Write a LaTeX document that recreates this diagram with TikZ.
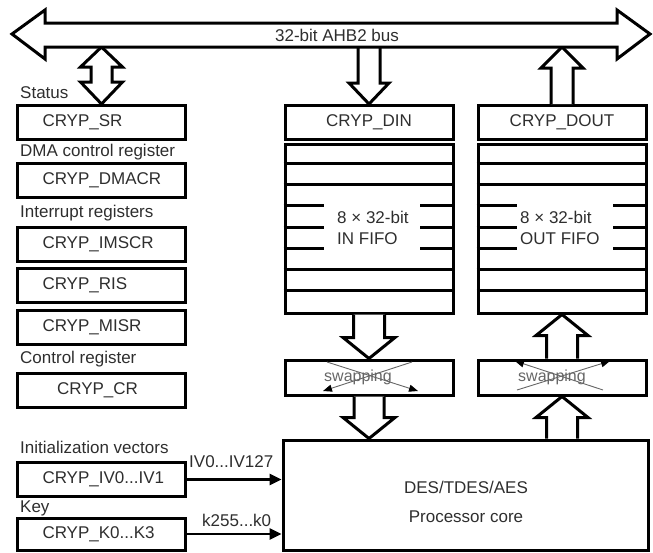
\documentclass[tikz,border=0pt]{standalone}
\usepackage{fontspec}
\setmainfont{Liberation Sans}
\usetikzlibrary{
    arrows.meta,
    positioning,
    calc
}
\definecolor{txtC} {gray}{0.18}
\definecolor{swapC}{gray}{0.40}
\newcommand{\regfont}{\fontsize{17}{21}\selectfont}
\newcommand{\swapfont}{\fontsize{16}{19}\selectfont}
\tikzset{
  reg/.style     = {draw, line width=3pt, minimum width=168pt,
                    minimum height=34pt, inner xsep=25pt, text width=118pt,
                    align=left, font=\regfont, text=txtC},
  creg/.style    = {reg, align=center},
  fifo/.style    = {draw, line width=3pt, minimum width=168pt,
                    minimum height=169pt},
  swapbox/.style = {draw, line width=3pt, minimum width=168pt,
                    minimum height=35pt},
  lbl/.style     = {font=\regfont, text=txtC, inner sep=0pt},
  row/.style     = {line width=3pt},
  fat/.style     = {draw, line width=3pt, fill=white, line join=miter},
  inarr/.style   = {-{Triangle[length=12pt,width=11pt]}, line width=2.6pt},
  swapln/.style  = {-{Triangle[length=9pt,width=7pt,color=black]},
                    draw=swapC, line width=0.9pt}
}
% hollow block arrow, head at #2; #3 shaft half-width, #4 head half-width
\newcommand{\fatarrow}[4]{%
  \draw[fat] let \p1=#1, \p2=#2, \n1={sign(\y1-\y2)} in
    ({\x2-#3},\y1) -- ({\x2-#3},{\y2+21pt*\n1}) -- ({\x2-#4},{\y2+21pt*\n1})
    -- (\x2,\y2) -- ({\x2+#4},{\y2+21pt*\n1}) -- ({\x2+#3},{\y2+21pt*\n1})
    -- ({\x2+#3},\y1);
}

\begin{document}
\begin{tikzpicture}[x=1pt, y=-1pt]
  \useasboundingbox (0,0) rectangle (653,552);

  %% ── Left register column ──────────────────────────────────────
  \node[lbl, anchor=west] (lstatus) at (20, 93)  {Status};
  \node[reg]  (sr)    at (101.5,122.5) {CRYP\_SR};
  \node[lbl, anchor=west] (ldma)    at (20,152)  {DMA control register};
  \node[reg]  (dmacr) at (101.5,180.5) {CRYP\_DMACR};
  \node[lbl, anchor=west] (lirq)    at (20,213)  {Interrupt registers};
  \node[reg]  (imscr) at (101.5,244.5) {CRYP\_IMSCR};
  \node[reg]  (ris)   at (101.5,285.0) {CRYP\_RIS};
  \node[reg]  (misr)  at (101.5,327.0) {CRYP\_MISR};
  \node[lbl, anchor=west] (lctrl)   at (20,359)  {Control register};
  \node[creg] (cr)    at (101.5,390.0) {CRYP\_CR\hspace*{8pt}};
  \node[lbl, anchor=west] (linit)   at (20,447)  {Initialization vectors};
  \node[reg]  (iv)    at (101.5,479.5) {CRYP\_IV0...IV1};
  \node[lbl, anchor=west] (lkey)    at (20,508)  {Key};
  \node[reg, minimum height=32pt] (key) at (101.5,534.0) {CRYP\_K0...K3};

  %% ── FIFO columns ──────────────────────────────────────────────
  \node[creg] (din)     at (369,122.5) {CRYP\_DIN};
  \node[fifo] (fifoin)  at (369,228.5) {};
  \node[creg] (dout)    at (562,122.5) {CRYP\_DOUT};
  \node[fifo] (fifoout) at (562,228.5) {};

  \foreach \f in {fifoin, fifoout} {
    \foreach \k in {1,2,6,7}
      \draw[row] ($(\f.north west)+(0,\k*21.125)$) -- ++(168,0);
    \foreach \k in {3,4,5} {
      \draw[row] ($(\f.north west)+(0,\k*21.125)$) -- ++(40,0);
      \draw[row] ($(\f.north east)+(0,\k*21.125)$) -- ++(-35,0);
    }
  }
  \node[lbl, anchor=west, align=left] (intxt)  at (337,227.5)
    {8 × 32-bit\\IN FIFO};
  \node[lbl, anchor=west, align=left] (outtxt) at (520,227.5)
    {8 × 32-bit\\OUT FIFO};

  %% ── Swapping ──────────────────────────────────────────────────
  \node[swapbox] (swapin)  at (369,377.5) {};
  \node[swapbox] (swapout) at (562,377.5) {};
  \node[font=\swapfont, text=swapC, inner sep=0pt] (swinlbl)
    at ($(swapin.center)+(-11,0)$) {swapping};
  \node[font=\swapfont, text=swapC, inner sep=0pt] (swoutlbl)
    at ($(swapout.center)+(-10,0)$) {swapping};
  \draw[swapln] ($(swapin.center)+(-42,-15.5)$)  -- ($(swapin.center)+(49,13.5)$);
  \draw[swapln] ($(swapin.center)+(43,-15.5)$)   -- ($(swapin.center)+(-46,13.5)$);
  \draw[swapln] ($(swapout.center)+(-45,12.5)$)  -- ($(swapout.center)+(48,-16.5)$);
  \draw[swapln] ($(swapout.center)+(41,12.5)$)   -- ($(swapout.center)+(-47,-16.5)$);

  %% ── Processor core ────────────────────────────────────────────
  \node[draw, line width=3pt, minimum width=365pt, minimum height=110pt]
    (core) at (465.5,495) {};
  \node[lbl, align=center] (coretxt) at (466,502)
    {DES/TDES/AES\\[8pt]Processor core};

  %% ── Key / IV inputs ───────────────────────────────────────────
  \draw[inarr] (iv.east)  -- (iv.east -| core.west);
  \node[lbl, anchor=west] (ivlbl) at (189,462) {IV0...IV127};
  \draw[inarr] (key.east) -- (key.east -| core.west);
  \node[lbl, anchor=west] (klbl)  at (202,520) {k255...k0};

  %% ── Block arrows ──────────────────────────────────────────────
  \coordinate (busbot) at (0,47);
  \draw[fat] let \p1=(busbot -| sr.north), \p2=(sr.north) in
    (\x1,\y1) -- ({\x1+21pt},{\y1-20pt}) -- ({\x1+10.5pt},{\y1-20pt})
    -- ({\x1+10.5pt},{\y2+22pt}) -- ({\x1+21pt},{\y2+22pt}) -- (\x2,\y2)
    -- ({\x1-21pt},{\y2+22pt}) -- ({\x1-10.5pt},{\y2+22pt})
    -- ({\x1-10.5pt},{\y1-20pt}) -- ({\x1-21pt},{\y1-20pt}) -- cycle;
  \fatarrow{(busbot -| din.north)}{(din.north)}{11pt}{20pt}
  \fatarrow{(dout.north)}{(busbot -| dout.north)}{11pt}{21pt}
  \fatarrow{(fifoin.south)}{(swapin.north)}{15.5pt}{26pt}
  \fatarrow{(swapin.south)}{(swapin.south |- core.north)}{15pt}{26pt}
  \fatarrow{(swapout.north)}{(fifoout.south)}{15.5pt}{26pt}
  \fatarrow{(swapout.south |- core.north)}{(swapout.south)}{15.5pt}{26pt}

  %% ── AHB2 bus ──────────────────────────────────────────────────
  \draw[fat] (12,34) -- (45,10) -- (45,23) -- (617,23) -- (617,10)
    -- (650,34) -- (617,59) -- (617,47) -- (45,47) -- (45,59) -- cycle;
  \node[lbl] (buslbl) at (337,35) {32-bit AHB2 bus};

\end{tikzpicture}
\end{document}
